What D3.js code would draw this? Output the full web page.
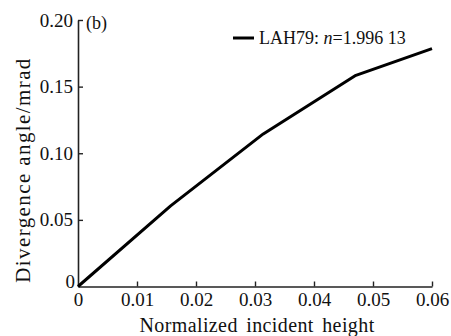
<!DOCTYPE html>
<html>
<head>
<meta charset="utf-8">
<script src="https://cdn.jsdelivr.net/npm/d3@7"></script>
<style>
  body { margin: 0; background: #fff; }
</style>
</head>
<body>
<svg id="chart" width="451" height="336"></svg>
<script>
// values
const heights = [0, 0.0157, 0.0314, 0.0471, 0.06]
const angles = [0, 0.0605, 0.1145, 0.1585, 0.1785]
const xTicks = [0, 0.01, 0.02, 0.03, 0.04, 0.05, 0.06]
const yTicks = [0, 0.05, 0.10, 0.15, 0.20]
const seriesName = "LAH79: "
const seriesN = "1.996 13"

const FONT = "Liberation Serif"
const svg = d3.select("#chart")
const margin = { left: 78, right: 19, top: 20, bottom: 50 }
const width = 451, height = 336

const x = d3.scaleLinear().domain([0, 0.06]).range([margin.left, width - margin.right])
const y = d3.scaleLinear().domain([0, 0.20]).range([height - margin.bottom + 0.5, margin.top])

const fmt = d => d === 0 ? "0" : d3.format(".2f")(d)

// x axis, ticks pointing inward
const gx = svg.append("g")
  .attr("transform", `translate(0,${y(0)})`)
  .call(d3.axisBottom(x).tickValues(xTicks).tickSizeInner(-5).tickSizeOuter(0).tickPadding(6).tickFormat(fmt))
  .attr("font-family", FONT).attr("font-size", 19)
gx.selectAll(".tick").filter(d => d === 0).select("line").remove()

// y axis
const gy = svg.append("g")
  .attr("transform", `translate(${x(0)},0)`)
  .call(d3.axisLeft(y).tickValues(yTicks).tickSizeInner(-5).tickSizeOuter(0).tickPadding(5).tickFormat(fmt))
  .attr("font-family", FONT).attr("font-size", 19)
gy.selectAll(".tick").filter(d => d === 0).select("line").remove()
gy.selectAll(".tick").filter(d => d === 0).select("text").attr("dy", "0.05em").attr("x", -3)

svg.selectAll(".domain").attr("stroke", "#222").attr("stroke-width", 1.6)
svg.selectAll(".tick line").attr("stroke", "#222").attr("stroke-width", 1.4)
svg.selectAll(".tick text").attr("fill", "#111").attr("font-family", FONT)

// series
const line = d3.line().x((d, i) => x(heights[i])).y(d => y(d))
svg.append("path")
  .datum(angles)
  .attr("d", line)
  .attr("fill", "none")
  .attr("stroke", "#000")
  .attr("stroke-width", 3)
  .attr("stroke-linejoin", "round")

// legend
svg.append("line")
  .attr("x1", 233).attr("x2", 254).attr("y1", 38).attr("y2", 38)
  .attr("stroke", "#000").attr("stroke-width", 3)
const lt = svg.append("text").attr("x", 259).attr("y", 44)
  .attr("font-family", FONT).attr("font-size", 18).attr("fill", "#111")
lt.append("tspan").text(seriesName)
lt.append("tspan").attr("font-style", "italic").text("n")
lt.append("tspan").text("=" + seriesN)

svg.append("text").attr("x", 86).attr("y", 29)
  .attr("font-family", FONT).attr("font-size", 18)
  .attr("fill", "#111").text("(b)")

// axis titles
svg.append("text")
  .attr("x", 257).attr("y", 332)
  .attr("text-anchor", "middle")
  .attr("font-family", FONT).attr("font-size", 20).attr("fill", "#111")
  .attr("letter-spacing", 0.4).attr("word-spacing", 3)
  .text("Normalized incident height")

svg.append("text")
  .attr("transform", "translate(30,170) rotate(-90)")
  .attr("text-anchor", "middle")
  .attr("font-family", FONT).attr("font-size", 21).attr("fill", "#111")
  .attr("letter-spacing", 1.4)
  .text("Divergence angle/mrad")
</script>
</body>
</html>
